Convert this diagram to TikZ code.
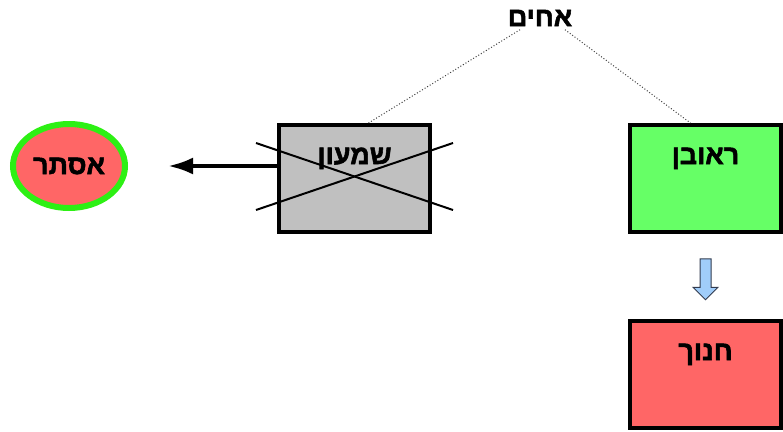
\documentclass[tikz,border=0pt]{standalone}
\usepackage{fontspec}
\newfontfamily\hebfont[Script=Hebrew, FakeBold=2]{Liberation Sans Bold}
\TeXXeTstate=1
\usetikzlibrary{calc,
shapes.geometric,
shapes.arrows,
arrows.meta,
positioning}
\definecolor{boxgray}{RGB}{192,192,192}
\definecolor{lightgreen}{RGB}{102,255,102}
\definecolor{lightred}{RGB}{255,102,102}
\definecolor{ringgreen}{RGB}{45,240,20}
\definecolor{arrowblue}{RGB}{160,205,250}
\definecolor{arrowline}{RGB}{50,60,80}
\newcommand*{\heb}[1]{{\hebfont\beginR #1\endR}}

\begin{document}
\begin{tikzpicture} [x=1pt, y=-1pt,
    >={Latex[length=25pt, width=17pt]},
    main node/.style={rectangle, draw, line width=4pt, inner sep=0pt,
        minimum width=151pt, text height=39pt, text depth=68pt},
    every node/.style={font=\fontsize{27}{30}\selectfont}
  ]

  \useasboundingbox (0,0) rectangle (783,431);

  \node (achim) at (540, 18) {\heb{אחים}};

  \node [main node,
    fill = boxgray
  ] (shimon) at (354.5, 178.5) {\heb{שמעון}};

  \node [main node,
    fill = lightgreen,
    right = 196pt of shimon
  ] (reuven) {\heb{ראובן}};

  \node [main node,
    fill = lightred,
    below = 85pt of reuven
  ] (hanokh) {\heb{חנוך}};

  \node [ellipse,
    draw = ringgreen,
    line width = 6pt,
    fill = lightred,
    inner sep = 0pt,
    minimum width = 112pt,
    minimum height = 84pt
  ] (ester) at (69, 166) {\heb{אסתר}};

  \node [single arrow,
    draw = arrowline,
    fill = arrowblue,
    line width = 1pt,
    inner sep = 5pt,
    minimum height = 41pt,
    single arrow head extend = 7pt,
    rotate = -90
  ] (down) at ($(reuven.south)!0.5!(hanokh.north)$) {};

  \draw [dotted, line width=1pt, gray!50!black] ([xshift=-20pt]achim.south) -- ([xshift=14pt]shimon.north);
  \draw [dotted, line width=1pt, gray!50!black] ([xshift=25pt]achim.south) -- ([xshift=-15pt]reuven.north);

  % crossed out
  \draw [line width=2pt] ($(shimon.north west) + (-21, 20)$) -- ($(shimon.south east) + (21, -24)$);
  \draw [line width=2pt] ($(shimon.south west) + (-21, -24)$) -- ($(shimon.north east) + (21, 20)$);

  \draw [->, line width=4pt, shorten >=40pt] (shimon.west |- ester.east) -- (ester.east);

\end{tikzpicture}
\end{document}
